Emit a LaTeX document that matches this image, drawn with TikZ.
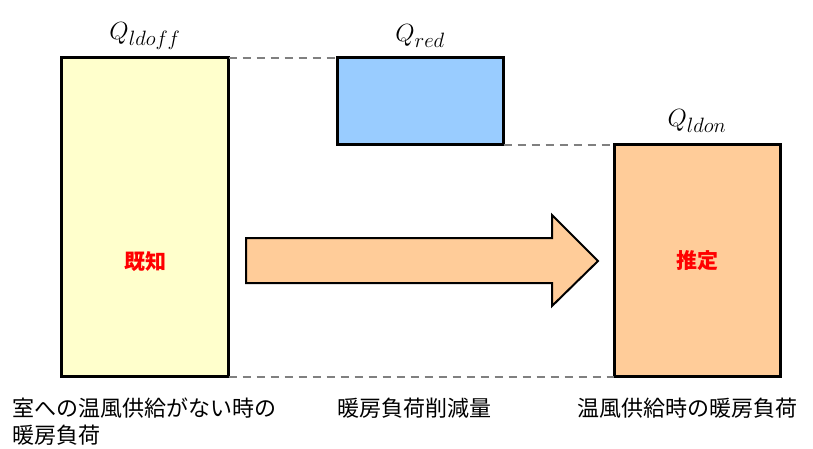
\documentclass[tikz,border=0pt]{standalone}
\usepackage{fontspec}
\newfontfamily\jp{Noto Sans CJK JP}
\usetikzlibrary{positioning}
\definecolor{loadYellow}{RGB}{255,255,204}
\definecolor{loadBlue}{RGB}{153,204,255}
\definecolor{loadOrange}{RGB}{255,204,153}
\definecolor{guideGray}{RGB}{128,128,128}
\tikzset{
  loadbox/.style={draw=black, line width=3pt, outer sep=0pt, inner sep=0pt,
                  font=\jp\bfseries\fontsize{21}{25}\selectfont, text=red},
  qlabel/.style={font=\fontsize{28}{32}\selectfont, inner sep=0pt},
  caption/.style={font=\jp\fontsize{22}{27}\selectfont, align=left, inner sep=0pt, anchor=north west},
  guide/.style={dash pattern=on 8pt off 6pt, line width=2pt, draw=guideGray},
  bigarrow/.style={draw=black, line width=2pt, fill=loadOrange, line join=miter}
}
\begin{document}
\begin{tikzpicture}[x=1pt, y=-1pt]
\useasboundingbox (0,0) rectangle (813,448);
% load boxes
\node[loadbox, fill=loadYellow, minimum width=167pt, minimum height=319pt] (off) at (145,217) {};
\node[loadbox, fill=loadBlue, minimum width=166.5pt, minimum height=87pt] (red) at (420.25,101) {};
\node[loadbox, fill=loadOrange, minimum width=166.5pt, minimum height=232pt] (on) at (697.25,260.5) {推定};
\node[loadbox, draw=none, fill=none] (known) at (145,262) {既知};
% guide lines
\draw[guide] (off.north east) -- (red.north west);
\draw[guide] (red.south east) -- (on.north west);
\draw[guide] (off.south east) -- (on.south west);
% labels
\node[qlabel] (qoff) at (145,36) {$Q_{ldoff}$};
\node[qlabel] (qred) at (420,36) {$Q_{red}$};
\node[qlabel] (qon) at (697,121) {$Q_{ldon}$};
% arrow
\draw[bigarrow] (246,238) -- (552,238) -- (552,215) -- (598,261) -- (552,306) -- (552,283) -- (246,283) -- cycle;
% captions
\node[caption] (coff) at (12,398) {室への温風供給がない時の\\暖房負荷};
\node[caption] (cred) at (337,398) {暖房負荷削減量};
\node[caption] (con) at (577,398) {温風供給時の暖房負荷};
\end{tikzpicture}
\end{document}
